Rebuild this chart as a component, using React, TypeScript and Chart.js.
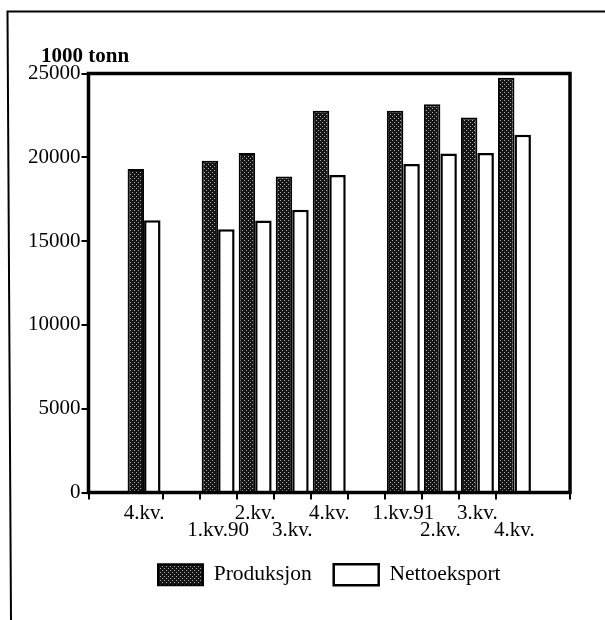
import { useEffect, useRef } from "react";
import { Chart, registerables } from "chart.js";

Chart.register(...registerables);

const categories = ["", "4.kv.", "", "1.kv.90", "2.kv.", "3.kv.", "4.kv.", "", "1.kv.91", "2.kv.", "3.kv.", "4.kv.", ""];
// 1 = upper label line, 2 = lower label line
const labelRows = [1, 1, 1, 2, 1, 2, 1, 1, 1, 2, 1, 2, 1];
const produksjon = [null, 19300, null, 19800, 20250, 18850, 22780, null, 22780, 23170, 22370, 24750, null];
const nettoeksport = [null, 16250, null, 15700, 16230, 16870, 18950, null, 19600, 20220, 20250, 21350, null];
const seriesNames = ["Produksjon", "Nettoeksport"];
const yUnit = "1000 tonn";
const yMin = 0;
const yMax = 25000;
const yStep = 5000;
const hiddenTickMarks = [1, 12];

const FONT = "'Liberation Serif', 'Times New Roman', serif";

function makePattern(): CanvasPattern | string {
  const c = document.createElement("canvas");
  c.width = 4;
  c.height = 4;
  const g = c.getContext("2d");
  if (!g) return "#222";
  g.fillStyle = "#141414";
  g.fillRect(0, 0, 4, 4);
  g.fillStyle = "#b0b0b0";
  g.fillRect(0, 0, 1, 1);
  g.fillRect(2, 2, 1, 1);
  return g.createPattern(c, "repeat") || "#222";
}

const framePlugin = {
  id: "frame",
  afterDraw(chart: any) {
    const { ctx, chartArea } = chart;
    const { left, right, top, bottom } = chartArea;
    ctx.save();
    ctx.strokeStyle = "#000";
    ctx.lineWidth = 3.5;
    ctx.strokeRect(left, top, right - left, bottom - top);
    ctx.lineWidth = 2;
    ctx.beginPath();
    ctx.moveTo(605, 11.5);
    ctx.lineTo(7.5, 11.5);
    ctx.lineTo(11, 620);
    ctx.stroke();
    // unit caption above the value axis
    ctx.fillStyle = "#000";
    ctx.font = `bold 21px ${FONT}`;
    ctx.textAlign = "left";
    ctx.textBaseline = "alphabetic";
    ctx.fillText(yUnit, 41, 62);
    ctx.restore();
  },
};

export default function App() {
  const ref = useRef<HTMLCanvasElement | null>(null);

  useEffect(() => {
    if (!ref.current) return;
    const pattern = makePattern();
    const labels = categories.map((c, i) => (labelRows[i] === 2 ? ["", c] : [c, ""]));
    const chart = new Chart(ref.current, {
      type: "bar",
      data: {
        labels,
        datasets: [
          {
            label: seriesNames[0],
            data: produksjon,
            backgroundColor: pattern as any,
            borderColor: "#000",
            borderWidth: 2,
            categoryPercentage: 0.89,
            barPercentage: 1,
          },
          {
            label: seriesNames[1],
            data: nettoeksport,
            backgroundColor: "#fff",
            borderColor: "#000",
            borderWidth: 2.5,
            categoryPercentage: 0.89,
            barPercentage: 1,
          },
        ],
      },
      options: {
        responsive: false,
        animation: false,
        layout: { padding: { left: 20, right: 35, top: 73.5, bottom: 24.5 } },
        plugins: {
          tooltip: { enabled: false },
          title: { display: false },
          legend: {
            position: "bottom",
            fullSize: false,
            labels: {
              boxWidth: 45,
              boxHeight: 21,
              padding: 22,
              color: "#000",
              font: { family: FONT, size: 21.5 },
            },
          },
        },
        scales: {
          x: {
            offset: true,
            border: { display: false },
            grid: {
              display: true,
              offset: true,
              drawOnChartArea: false,
              drawTicks: true,
              tickLength: 7,
              lineWidth: 2,
              tickWidth: 2,
              color: "#000",
              tickColor: (ctx: any) =>
                hiddenTickMarks.includes(ctx.index) ? "rgba(0,0,0,0)" : "#000",
            },
            ticks: {
              autoSkip: false,
              maxRotation: 0,
              minRotation: 0,
              padding: 6,
              color: "#000",
              font: { family: FONT, size: 21, lineHeight: 0.8 },
            },
            afterFit: (s: any) => {
              s.height = 49.5;
            },
          },
          y: {
            min: yMin,
            max: yMax,
            border: { display: false },
            grid: {
              display: true,
              drawOnChartArea: false,
              drawTicks: true,
              tickLength: 7,
              lineWidth: 2,
              tickWidth: 2,
              color: "#000",
            },
            ticks: {
              stepSize: yStep,
              padding: 1,
              color: "#000",
              font: { family: FONT, size: 21 },
              callback: (v: any) => String(v),
            },
            afterFit: (s: any) => {
              s.width = 68.5;
            },
          },
        },
      },
      plugins: [framePlugin],
    });
    return () => chart.destroy();
  }, []);

  return (
    <div style={{ position: "fixed", left: 0, top: 0, width: 605, height: 620, background: "#fff" }}>
      <canvas ref={ref} width={605} height={620} />
    </div>
  );
}
